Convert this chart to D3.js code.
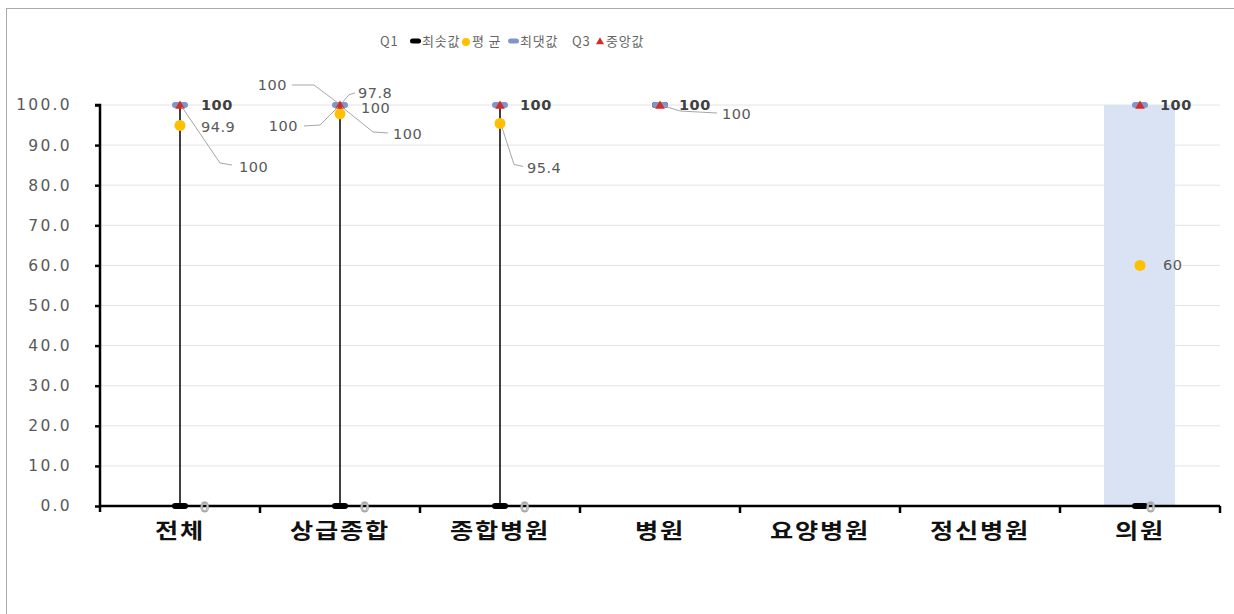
<!DOCTYPE html>
<html><head><meta charset="utf-8">
<script src="https://cdn.jsdelivr.net/npm/d3@7"></script>
<style>
body{margin:0;background:#fff;}
svg{display:block;}
</style></head>
<body><svg id="c" width="1234" height="614"></svg>
<script>
// ---- data ----
const categories = ['전체','상급종합','종합병원','병원','요양병원','정신병원','의원'];
const q1Vals     = [100, 100, 100, 100, null, null, 0];
const minVals    = [0,   0,   0,   100, null, null, 0];
const meanVals   = [94.9,97.8,95.4,100, null, null, 60];
const maxVals    = [100, 100, 100, 100, null, null, 100];
const q3Vals     = [100, 100, 100, 100, null, null, 100];
const medianVals = [100, 100, 100, 100, null, null, 100];
const yTicks = [0,10,20,30,40,50,60,70,80,90,100];
const legendItems = ['Q1','최솟값','평 균','최댓값','Q3','중앙값'];

// label layout (styling only): series, category index, offset from its point, leader
const seriesMap = {min:minVals, mean:meanVals, max:maxVals, median:medianVals, q1:q1Vals, q3:q3Vals};
const labelSpecs = [
  {s:'max',   i:0, dx:21, dy:0,  bold:true},
  {s:'mean',  i:0, dx:21, dy:1.5},
  {s:'median',i:0, dx:59, dy:62, leader:[[2,2],[40,58],[52,60]]},
  {s:'min',   i:0, dx:20, dy:1, faint:true},
  {s:'q3',    i:1, dx:-53,dy:-20, anchor:'end', leader:[[-2,-2],[-26,-20],[-48,-20]]},
  {s:'mean',  i:1, dx:18, dy:-21, leader:[[2,-11],[9,-19],[15,-21]]},
  {s:'max',   i:1, dx:21, dy:3},
  {s:'q1',    i:1, dx:-42,dy:21, anchor:'end', leader:[[-2,2],[-20,20],[-36,21]]},
  {s:'median',i:1, dx:53, dy:29, leader:[[2,2],[33,27],[48,28]]},
  {s:'min',   i:1, dx:20, dy:1, faint:true},
  {s:'max',   i:2, dx:20, dy:0,  bold:true},
  {s:'mean',  i:2, dx:27, dy:44, leader:[[2,4],[14,41],[23,43]]},
  {s:'min',   i:2, dx:20, dy:1, faint:true},
  {s:'max',   i:3, dx:19, dy:0,  bold:true, leader:[[4,1],[20,6],[57,8]]},
  {s:'median',i:3, dx:62, dy:9},
  {s:'max',   i:6, dx:20, dy:0,  bold:true},
  {s:'mean',  i:6, dx:23, dy:0},
  {s:'min',   i:6, dx:6,  dy:1, faint:true}
];

// ---- layout ----
const svg = d3.select('#c');
const pLeft = 100, pRight = 1220, pTop = 105, pBottom = 506;

svg.append('rect').attr('x',6.5).attr('y',8.5).attr('width',1400).attr('height',800)
  .attr('fill','none').attr('stroke','#555').attr('stroke-dasharray','1,1');

const x = d3.scaleBand().domain(categories).range([pLeft,pRight]).padding(0);
const y = d3.scaleLinear().domain([0,100]).range([pBottom,pTop]);
const cx = i => x(categories[i]) + x.bandwidth()/2;

// gridlines
svg.append('g').selectAll('line').data(yTicks.filter(t=>t>0)).join('line')
  .attr('x1',pLeft).attr('x2',pRight).attr('y1',d=>y(d)).attr('y2',d=>y(d))
  .attr('stroke','#e4e4e4').attr('stroke-width',1);

// boxes (Q1-Q3)
const idx = d3.range(categories.length).filter(i=>q1Vals[i]!=null);
svg.append('g').selectAll('rect').data(idx.filter(i=>q3Vals[i]!==q1Vals[i])).join('rect')
  .attr('x',i=>cx(i)-36).attr('width',71)
  .attr('y',i=>y(Math.max(q1Vals[i],q3Vals[i])))
  .attr('height',i=>Math.abs(y(q1Vals[i])-y(q3Vals[i])))
  .attr('fill','#dae3f3');

// high-low lines (hidden behind box where box exists)
svg.append('g').selectAll('line').data(idx.filter(i=>minVals[i]!==maxVals[i] && q3Vals[i]===q1Vals[i])).join('line')
  .attr('x1',cx).attr('x2',cx).attr('y1',i=>y(minVals[i])).attr('y2',i=>y(maxVals[i]))
  .attr('stroke','#000').attr('stroke-width',1.5);

// axes
const yAxis = d3.axisLeft(y).tickValues(yTicks).tickSize(5).tickPadding(23).tickFormat(d3.format('.1f'));
const gy = svg.append('g').attr('transform',`translate(${pLeft},0)`).call(yAxis);
gy.select('.domain').attr('stroke','#000').attr('stroke-width',2.5).attr('d',`M-5,${pTop}H0V${pBottom+6}`);
gy.selectAll('.tick line').attr('stroke','#000').attr('stroke-width',2.5);
gy.selectAll('.tick text').attr('fill','#595959').style('font-family','DejaVu Sans').style('font-size','15.5px').style('letter-spacing','2.3px');

const xAxis = d3.axisBottom(x).tickSize(0).tickPadding(14);
const gx = svg.append('g').attr('transform',`translate(0,${pBottom})`).call(xAxis);
gx.select('.domain').attr('stroke','#000').attr('stroke-width',2.5).attr('d',`M${pLeft},0H${pRight}`);
gx.selectAll('.tick text').attr('fill','#111').style('font-family','Noto Sans CJK KR').style('font-size','21px')
  .style('font-weight','bold').style('letter-spacing','1.5px').attr('dy','0.85em')
  .attr('transform','scale(1.2,1)');
svg.append('g').selectAll('line').data(categories.slice(1).concat(['end'])).join('line')
  .attr('x1',(d,i)=>pLeft + (i+1)*x.bandwidth()).attr('x2',(d,i)=>pLeft + (i+1)*x.bandwidth())
  .attr('y1',pBottom).attr('y2',pBottom+7).attr('stroke','#000').attr('stroke-width',2.5);

// markers
const mk = svg.append('g');
mk.selectAll('.mn').data(idx).join('rect').attr('class','mn')
  .attr('x',i=>cx(i)-8).attr('y',i=>y(minVals[i])-3).attr('width',16).attr('height',6).attr('rx',3)
  .attr('fill','#000');
mk.selectAll('.mx').data(idx).join('rect').attr('class','mx')
  .attr('x',i=>cx(i)-8).attr('y',i=>y(maxVals[i])-3).attr('width',16).attr('height',6).attr('rx',3)
  .attr('fill','#7f96c8');
mk.selectAll('.me').data(idx.filter(i=>i!==3)).join('circle').attr('class','me')
  .attr('cx',cx).attr('cy',i=>y(meanVals[i])).attr('r',5.5).attr('fill','#ffc000');
const tri = d3.symbol().type(d3.symbolTriangle).size(40);
mk.selectAll('.md').data(idx).join('path').attr('class','md')
  .attr('transform',i=>`translate(${cx(i)},${y(medianVals[i])+1})`).attr('d',tri).attr('fill','#d52b2b');

// labels
const lg = svg.append('g');
labelSpecs.forEach(l=>{
  const v = seriesMap[l.s][l.i];
  const px = cx(l.i), py = y(v);
  if(l.leader){
    lg.append('path').attr('d',d3.line()(l.leader.map(p=>[px+p[0],py+p[1]])))
      .attr('fill','none').attr('stroke','#a6a6a6').attr('stroke-width',1);
  }
  lg.append('text').attr('x',px+l.dx).attr('y',py+l.dy).attr('dy','0.35em')
    .attr('text-anchor',l.anchor||'start')
    .style('font-family','DejaVu Sans').style('font-size','14.5px').style('letter-spacing','0.5px')
    .style('font-weight',l.bold?'bold':'normal')
    .attr('fill',l.faint?'#fff':(l.bold?'#404040':'#595959'))
    .attr('stroke',l.faint?'#999':'none').attr('stroke-width',l.faint?0.8:0)
    .text(d3.format('~g')(v));
});

// legend
const leg = svg.append('g').style('font-family','Noto Sans CJK KR').style('font-size','13px');
const legX = [380,422,472,520,572,606];
const legY = 41;
legendItems.forEach((t,k)=>{
  leg.append('text').attr('x',legX[k]).attr('y',legY).attr('dy','0.35em').attr('fill','#666')
    .style('letter-spacing','0.8px').text(t);
});
leg.append('rect').attr('x',410).attr('y',legY-2.5).attr('width',11).attr('height',5).attr('rx',2.5).attr('fill','#000');
leg.append('circle').attr('cx',466).attr('cy',legY+1).attr('r',4).attr('fill','#ffc000');
leg.append('rect').attr('x',508).attr('y',legY-2.5).attr('width',11).attr('height',5).attr('rx',2.5).attr('fill','#7f96c8');
leg.append('path').attr('transform',`translate(600,${legY+1})`).attr('d',d3.symbol().type(d3.symbolTriangle).size(28)).attr('fill','#d52b2b');
</script></body></html>
